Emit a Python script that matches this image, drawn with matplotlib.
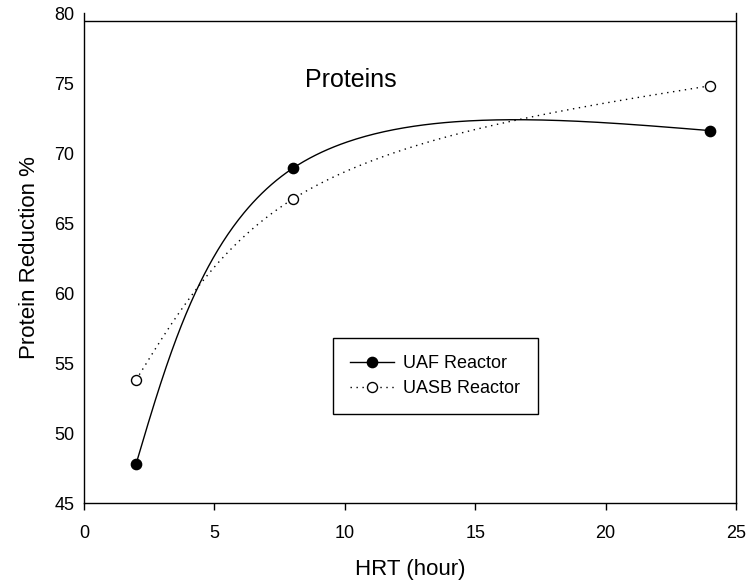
import numpy as np
import matplotlib
matplotlib.use("Agg")
import matplotlib.pyplot as plt

plt.rcParams['font.family'] = ['Liberation Sans', 'DejaVu Sans']

# Hydraulic retention time (hours) and protein reduction (%)
hrt = [2, 8, 24]
uaf = [47.8, 68.9, 71.6]
uasb = [53.8, 66.7, 74.8]

x_ticks = [0, 5, 10, 15, 20, 25]
y_ticks = [45, 50, 55, 60, 65, 70, 75, 80]


def natural_spline(t, y, tt):
    # natural cubic spline y(t) evaluated at tt
    n = len(t)
    h = np.diff(t)
    A = np.zeros((n, n))
    r = np.zeros(n)
    A[0, 0] = A[-1, -1] = 1
    for i in range(1, n - 1):
        A[i, i - 1] = h[i - 1]
        A[i, i] = 2 * (h[i - 1] + h[i])
        A[i, i + 1] = h[i]
        r[i] = 6 * ((y[i + 1] - y[i]) / h[i] - (y[i] - y[i - 1]) / h[i - 1])
    M = np.linalg.solve(A, r)
    k = np.clip(np.searchsorted(t, tt) - 1, 0, n - 2)
    t0, t1 = t[k], t[k + 1]
    hk = t1 - t0
    a, b = t1 - tt, tt - t0
    return (M[k] * a**3 / (6 * hk) + M[k + 1] * b**3 / (6 * hk)
            + (y[k] / hk - M[k] * hk / 6) * a
            + (y[k + 1] / hk - M[k + 1] * hk / 6) * b)


def spline_curve(ax, xs, ys, n=300):
    # parametric spline in screen space (centripetal knots)
    pts = ax.transData.transform(np.column_stack([xs, ys]))
    d = np.sqrt(np.hypot(*np.diff(pts, axis=0).T))
    t = np.concatenate([[0], np.cumsum(d)])
    tt = np.linspace(0, t[-1], n)
    cx = natural_spline(t, pts[:, 0], tt)
    cy = natural_spline(t, pts[:, 1], tt)
    curve = ax.transData.inverted().transform(np.column_stack([cx, cy]))
    return curve[:, 0], curve[:, 1]


fig = plt.figure(figsize=(7.49, 5.83), dpi=100)
ax = fig.add_axes([0.1121, 0.1372, 0.8705, 0.8405])
ax.set_xlim(0, 25)
ax.set_ylim(45, 80)

xs, ys = spline_curve(ax, hrt, uaf)
ax.plot(xs, ys, color='black', lw=1.0)
xs, ys = spline_curve(ax, hrt, uasb)
ax.plot(xs, ys, color='black', lw=1.0, linestyle=(0, (1, 3.3)))

ax.plot(hrt, uaf, 'o', color='black', ms=7.4, zorder=3)
ax.plot(hrt, uasb, 'o', mfc='white', mec='black', mew=1.0, ms=7.2, zorder=3)

# legend proxies (line + marker)
h1, = ax.plot([], [], '-o', color='black', lw=1.0, ms=7.4)
h2, = ax.plot([], [], 'o', linestyle=(0, (1, 3.3)), color='black', lw=1.0,
              mfc='white', mec='black', mew=1.0, ms=7.2)
leg = ax.legend([h1, h2], ['UAF Reactor', 'UASB Reactor'],
                loc='upper left', bbox_to_anchor=(0.382, 0.337),
                borderaxespad=0, fancybox=False, edgecolor='black',
                framealpha=1, fontsize=13, handlelength=2.4,
                handletextpad=0.55, labelspacing=0.45, borderpad=0.95)
leg.get_frame().set_linewidth(1.0)

ax.text(0.339, 0.863, 'Proteins', transform=ax.transAxes,
        fontsize=18, ha='left', va='center')

ax.set_xticks(x_ticks)
ax.set_yticks(y_ticks)
ax.tick_params(axis='x', direction='out', length=5, width=1.0,
               labelsize=13, pad=11)
ax.tick_params(axis='y', length=0, labelsize=13, pad=7)

ax.spines['top'].set_visible(False)
for s in ['left', 'right', 'bottom']:
    ax.spines[s].set_linewidth(1.0)
# frame line along the top, just below the 80 mark
ax.axhline(79.43, color='black', lw=1.0)

ax.set_xlabel('HRT (hour)', fontsize=16, labelpad=12)
ax.set_ylabel('Protein Reduction %', fontsize=16, labelpad=10)

fig.savefig('out.png', dpi=100)
